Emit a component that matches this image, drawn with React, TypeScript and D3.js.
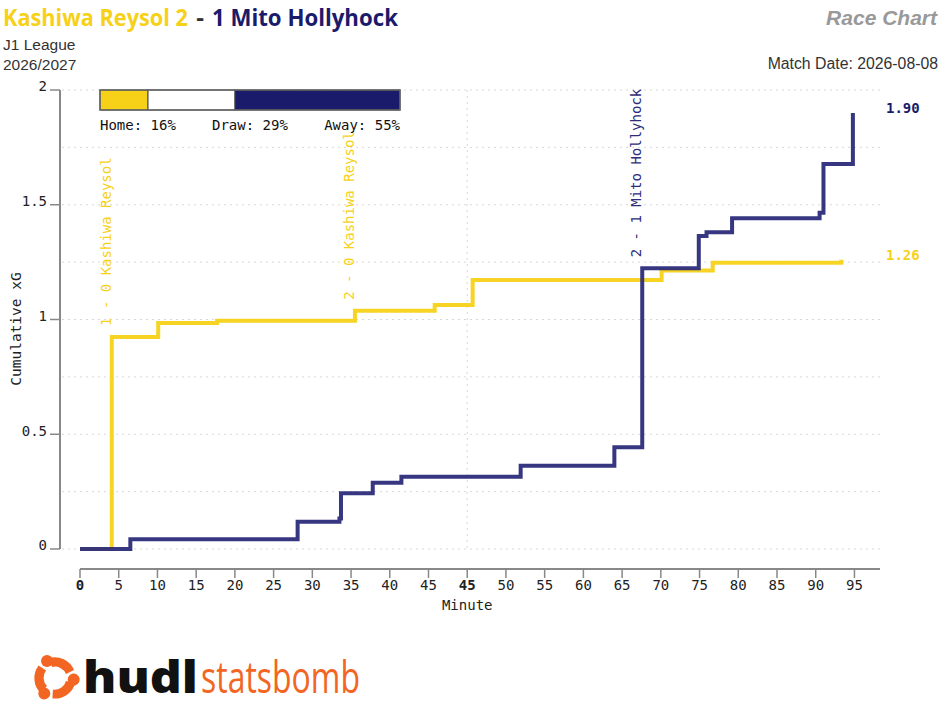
import React, { useLayoutEffect, useRef, useState } from 'react';
import * as d3 from 'd3';

// match meta
const homeTeam = 'Kashiwa Reysol';
const awayTeam = 'Mito Hollyhock';
const homeGoals = 2;
const awayGoals = 1;
const competition = 'J1 League';
const season = '2026/2027';
const matchDate = '2026-08-08';

// win probabilities (%)
const probLabels = ['Home', 'Draw', 'Away'];
const probValues = [16, 29, 55];

// cumulative xG steps (minute, period, cumulative xG)
const homeMin = [0, 4.1, 10.1, 17.7, 35.5, 45.8, 45.7, 70.1, 76.7, 93.3];
const homePeriod = [1, 1, 1, 1, 1, 1, 2, 2, 2, 2];
const homeCum = [0, 0.924, 0.985, 0.995, 1.038, 1.063, 1.172, 1.213, 1.247, 1.26];

const awayMin = [0, 6.5, 28.1, 33.5, 33.7, 37.8, 41.5, 51.9, 64.0, 67.6, 74.9, 75.9, 79.2, 90.5, 91.0, 94.8];
const awayPeriod = [1, 1, 1, 1, 1, 1, 1, 2, 2, 2, 2, 2, 2, 2, 2, 2];
const awayCum = [0, 0.042, 0.119, 0.133, 0.243, 0.289, 0.315, 0.363, 0.443, 1.223, 1.364, 1.38, 1.441, 1.465, 1.678, 1.9];

// goals
const goalMin = [4.1, 35.5, 67.6];
const goalPeriod = [1, 1, 2];
const goalSide = ['home', 'home', 'away'];
const goalCum = [0.924, 1.038, 1.223];
const goalText = ['1 - 0 Kashiwa Reysol', '2 - 0 Kashiwa Reysol', '2 - 1 Mito Hollyhock'];

// axes
const firstHalfTicks = [0, 5, 10, 15, 20, 25, 30, 35, 40, 45];
const secondHalfTicks = [45, 50, 55, 60, 65, 70, 75, 80, 85, 90, 95];
const yTicks = [0, 0.5, 1, 1.5, 2];
const yGrid = [0, 0.25, 0.5, 0.75, 1, 1.25, 1.5, 1.75, 2];

const HALF_END = 50; // first half shown up to 50' incl. stoppage

const YELLOW = '#f7d117';
const NAVY = '#1b1b6b';
const NAVY_LINE = '#2c2c7a';
const MONO = '"DejaVu Sans Mono", monospace';
const SANS = '"Liberation Sans", Arial, sans-serif';
const TITLE = '"Open Sans", sans-serif';

const elapsed = (m: number, p: number) => (p === 1 ? m : HALF_END + (m - 45));

// squeezes a text horizontally so it fills `width` px
const FitText: React.FC<{ x: number; y: number; width: number; children: React.ReactNode } & React.SVGProps<SVGTextElement>> = ({
  x, y, width, children, ...rest
}) => {
  const ref = useRef<SVGTextElement>(null);
  const [sx, setSx] = useState(1);
  useLayoutEffect(() => {
    if (!ref.current) return;
    const w = ref.current.getComputedTextLength();
    if (w > 0) setSx(width / w);
  }, [width]);
  return (
    <g transform={`translate(${x},${y}) scale(${sx},1)`}>
      <text ref={ref} x={0} y={0} {...rest}>{children}</text>
    </g>
  );
};

export default function App() {
  const x = d3.scaleLinear().domain([0, 103.3]).range([80, 880]);
  const y = d3.scaleLinear().domain([0, 2]).range([549, 90]);
  const px = d3.scaleLinear().domain([0, 100]).range([100, 400]);

  const line = d3
    .line<[number, number]>()
    .x((d) => x(d[0]))
    .y((d) => y(d[1]))
    .curve(d3.curveStepAfter);

  const homePts: [number, number][] = homeMin.map((m, i) => [elapsed(m, homePeriod[i]), homeCum[i]]);
  const awayPts: [number, number][] = awayMin.map((m, i) => [elapsed(m, awayPeriod[i]), awayCum[i]]);

  const xTicks = [
    ...firstHalfTicks.map((t) => ({ e: t, label: String(t), bold: t === 0 })),
    ...secondHalfTicks.map((t) => ({ e: elapsed(t, 2), label: String(t), bold: t === 45 })),
  ];

  let acc = 0;
  const probSegs = probValues.map((v, i) => {
    const s = { x0: px(acc), x1: px(acc + v), label: probLabels[i], v };
    acc += v;
    return s;
  });
  const probFill = [YELLOW, '#ffffff', NAVY];

  const homeLast = homeCum[homeCum.length - 1];
  const awayLast = awayCum[awayCum.length - 1];

  return (
    <svg
      width={940}
      height={720}
      style={{ position: 'absolute', left: 0, top: 0, background: '#fff' }}
    >
      {/* header */}
      <FitText x={3} y={26} width={185} fontFamily={TITLE} fontWeight={700} fontSize={24} fill={YELLOW}>
        {`${homeTeam} ${homeGoals}`}
      </FitText>
      <text x={200} y={26} textAnchor="middle" fontFamily={TITLE} fontWeight={700} fontSize={24}
        fill="#333">-</text>
      <FitText x={212} y={26} width={186} fontFamily={TITLE} fontWeight={700} fontSize={24} fill={NAVY}>
        {`${awayGoals} ${awayTeam}`}
      </FitText>
      <text x={3} y={50} fontFamily={SANS} fontSize={15.5} fill="#333">{competition}</text>
      <text x={3} y={70} fontFamily={SANS} fontSize={15.5} fill="#333">{season}</text>
      <text x={937} y={25} textAnchor="end" fontFamily={SANS} fontSize={21} fontWeight={700}
        fontStyle="italic" fill="#999">Race Chart</text>
      <text x={938} y={69} textAnchor="end" fontFamily={SANS} fontSize={15.8} fill="#333">
        {`Match Date: ${matchDate}`}
      </text>

      {/* grid */}
      {yGrid.map((v) => (
        <line key={v} x1={62} x2={880} y1={y(v)} y2={y(v)} stroke="#d8d8d8"
          strokeDasharray="2 4" strokeWidth={1} />
      ))}
      <line x1={x(HALF_END)} x2={x(HALF_END)} y1={y(2)} y2={y(0)} stroke="#d8d8d8"
        strokeDasharray="2 4" strokeWidth={1} />

      {/* y axis */}
      <line x1={60} x2={60} y1={y(2)} y2={y(0)} stroke="#888" strokeWidth={2} />
      {yTicks.map((v) => (
        <g key={v}>
          <line x1={50} x2={60} y1={y(v)} y2={y(v)} stroke="#888" strokeWidth={1.5} />
          <text x={47} y={y(v)} dy="0.1em" textAnchor="end" fontFamily={MONO} fontSize={14} fill="#222">
            {String(v)}
          </text>
        </g>
      ))}
      <text transform="translate(21,329) rotate(-90)" textAnchor="middle"
        fontFamily={MONO} fontSize={14.5} fill="#222">Cumulative xG</text>

      {/* x axis */}
      <line x1={80} x2={880} y1={569} y2={569} stroke="#888" strokeWidth={2} />
      {xTicks.map((t, i) => (
        <g key={i}>
          <line x1={x(t.e)} x2={x(t.e)} y1={569} y2={578} stroke="#888" strokeWidth={1.5} />
          <text x={x(t.e)} y={590} textAnchor="middle" fontFamily={MONO} fontSize={14}
            fontWeight={t.bold ? 700 : 400} fill="#222">{t.label}</text>
        </g>
      ))}
      <text x={x(HALF_END)} y={610} textAnchor="middle" fontFamily={MONO} fontSize={14} fill="#222">
        Minute
      </text>

      {/* win probability bar */}
      {probSegs.map((s, i) => (
        <rect key={i} x={s.x0} y={90} width={s.x1 - s.x0} height={20} fill={probFill[i]}
          stroke="#444" strokeWidth={1} />
      ))}
      <rect x={px(0)} y={90} width={px(100) - px(0)} height={20} fill="none" stroke="#666" strokeWidth={1.5} />
      <text x={px(0)} y={130} fontFamily={MONO} fontSize={14} fill="#111">
        {`${probSegs[0].label}: ${probSegs[0].v}%`}
      </text>
      <text x={212} y={130} fontFamily={MONO} fontSize={14} fill="#111">
        {`${probSegs[1].label}: ${probSegs[1].v}%`}
      </text>
      <text x={px(100)} y={130} textAnchor="end" fontFamily={MONO} fontSize={14} fill="#111">
        {`${probSegs[2].label}: ${probSegs[2].v}%`}
      </text>

      {/* goal annotations */}
      {goalMin.map((m, i) => (
        <text key={i}
          transform={`translate(${x(elapsed(m, goalPeriod[i])) - 1},${y(goalCum[i]) - 11}) rotate(-90)`}
          fontFamily={MONO} fontSize={14} fill={goalSide[i] === 'home' ? YELLOW : NAVY_LINE}>
          {goalText[i]}
        </text>
      ))}

      {/* race lines */}
      <path d={line(homePts) ?? ''} fill="none" stroke={YELLOW} strokeWidth={4} strokeOpacity={0.95} />
      <path d={line(awayPts) ?? ''} fill="none" stroke={NAVY_LINE} strokeWidth={4} strokeOpacity={0.95} />

      {/* final labels */}
      <text x={886} y={y(awayLast) - 4} dominantBaseline="middle" fontFamily={MONO} fontSize={14}
        fontWeight={700} fill={NAVY}>{awayLast.toFixed(2)}</text>
      <text x={886} y={y(homeLast) - 4} dominantBaseline="middle" fontFamily={MONO} fontSize={14}
        fontWeight={700} fill={YELLOW}>{homeLast.toFixed(2)}</text>

      {/* logo */}
      <g transform="translate(55,678)" fill="#f26522">
        {[0, 120, 240].map((a) => (
          <g key={a} transform={`rotate(${a})`}>
            <path d="M -6 -20 A 21 21 0 0 1 19 -8 L 11 -4 A 12 12 0 0 0 -3 -11 Z" />
            <circle cx={-8} cy={-17} r={6} />
          </g>
        ))}
      </g>
      <FitText x={83} y={693} width={115} fontFamily={TITLE} fontWeight={800} fontSize={44} fill="#111">
        hudl
      </FitText>
      <FitText x={201} y={693} width={159} fontFamily={TITLE} fontWeight={400} fontSize={44} fill="#f26522">
        statsbomb
      </FitText>
    </svg>
  );
}
